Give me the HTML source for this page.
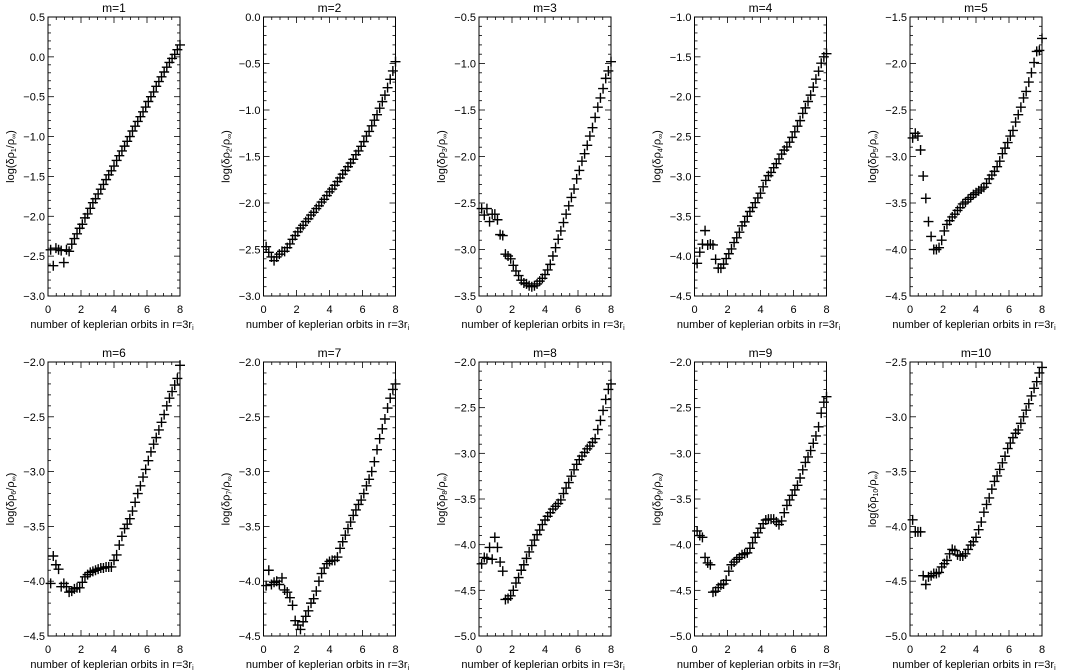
<!DOCTYPE html>
<html><head><meta charset="utf-8">
<style>
html,body{margin:0;padding:0;background:#fff;}
svg{display:block;font-family:"Liberation Sans","DejaVu Sans",sans-serif;}
</style></head>
<body>
<svg id="chart" width="1070" height="670" viewBox="0 0 1070 670" xmlns="http://www.w3.org/2000/svg"></svg>
<script>
const xs = [0.16,0.32,0.48,0.64,0.8,0.96,1.12,1.28,1.44,1.6,1.76,1.92,2.08,2.24,2.4,2.56,2.72,2.88,3.04,3.2,3.36,3.52,3.68,3.84,4.0,4.16,4.32,4.48,4.64,4.8,4.96,5.12,5.28,5.44,5.6,5.76,5.92,6.08,6.24,6.4,6.56,6.72,6.88,7.04,7.2,7.36,7.52,7.68,7.84,8.0];
const xTicks = [0,2,4,6,8];
const modes = [1,2,3,4,5,6,7,8,9,10];
const yMins = [-3.0,-3.0,-3.5,-4.5,-4.5,-4.5,-4.5,-5.0,-5.0,-5.0];
const yMaxs = [0.5,0.0,-0.5,-1.0,-1.5,-2.0,-2.0,-2.0,-2.0,-2.5];
const m1 = [-2.42,-2.62,-2.40,-2.42,-2.43,-2.58,-2.42,-2.44,-2.35,-2.28,-2.22,-2.15,-2.10,-2.02,-1.97,-1.90,-1.83,-1.78,-1.72,-1.66,-1.60,-1.54,-1.48,-1.43,-1.37,-1.30,-1.24,-1.18,-1.12,-1.06,-1.00,-0.93,-0.87,-0.81,-0.75,-0.69,-0.63,-0.56,-0.50,-0.44,-0.37,-0.31,-0.25,-0.19,-0.13,-0.07,-0.02,0.03,0.09,0.15];
const m2 = [-2.47,-2.53,-2.58,-2.62,-2.58,-2.55,-2.52,-2.52,-2.48,-2.44,-2.39,-2.35,-2.31,-2.27,-2.24,-2.20,-2.17,-2.13,-2.10,-2.06,-2.03,-1.99,-1.96,-1.92,-1.88,-1.85,-1.81,-1.77,-1.73,-1.69,-1.65,-1.61,-1.57,-1.53,-1.48,-1.44,-1.39,-1.34,-1.28,-1.23,-1.17,-1.11,-1.05,-0.98,-0.91,-0.84,-0.76,-0.67,-0.58,-0.48];
const m3 = [-2.56,-2.63,-2.56,-2.70,-2.62,-2.62,-2.68,-2.84,-2.85,-3.05,-3.07,-3.10,-3.17,-3.23,-3.28,-3.33,-3.36,-3.37,-3.39,-3.40,-3.39,-3.37,-3.34,-3.31,-3.27,-3.22,-3.16,-3.07,-2.98,-2.89,-2.80,-2.71,-2.62,-2.53,-2.44,-2.35,-2.24,-2.15,-2.05,-1.97,-1.88,-1.78,-1.69,-1.58,-1.47,-1.37,-1.27,-1.16,-1.08,-0.98];
const m4 = [-4.09,-3.95,-3.85,-3.68,-3.86,-3.85,-3.86,-4.04,-4.15,-4.15,-4.10,-4.03,-3.97,-3.91,-3.83,-3.77,-3.70,-3.62,-3.57,-3.50,-3.44,-3.39,-3.33,-3.27,-3.21,-3.13,-3.05,-2.99,-2.95,-2.89,-2.84,-2.78,-2.72,-2.67,-2.63,-2.57,-2.51,-2.44,-2.37,-2.30,-2.21,-2.14,-2.06,-1.98,-1.88,-1.78,-1.68,-1.58,-1.50,-1.46];
const m5 = [-2.80,-2.75,-2.78,-2.93,-3.21,-3.45,-3.70,-3.86,-4.00,-4.00,-3.98,-3.90,-3.80,-3.73,-3.69,-3.65,-3.62,-3.58,-3.55,-3.51,-3.49,-3.46,-3.44,-3.41,-3.39,-3.37,-3.35,-3.33,-3.29,-3.24,-3.20,-3.16,-3.11,-3.05,-2.97,-2.91,-2.85,-2.78,-2.72,-2.63,-2.55,-2.47,-2.37,-2.30,-2.20,-2.10,-1.99,-1.87,-1.86,-1.73];
const m6 = [-4.02,-3.77,-3.85,-3.89,-4.05,-4.02,-4.05,-4.10,-4.09,-4.07,-4.06,-4.06,-4.01,-3.96,-3.94,-3.92,-3.91,-3.90,-3.89,-3.88,-3.88,-3.87,-3.87,-3.87,-3.81,-3.76,-3.67,-3.59,-3.52,-3.48,-3.43,-3.36,-3.28,-3.20,-3.13,-3.05,-2.98,-2.90,-2.82,-2.75,-2.69,-2.62,-2.55,-2.48,-2.40,-2.33,-2.27,-2.21,-2.15,-2.03];
const m7 = [-4.04,-3.90,-4.03,-4.01,-4.00,-4.03,-3.97,-4.08,-4.10,-4.15,-4.22,-4.36,-4.40,-4.44,-4.37,-4.32,-4.27,-4.20,-4.16,-4.09,-4.00,-3.93,-3.88,-3.84,-3.82,-3.81,-3.81,-3.78,-3.70,-3.64,-3.58,-3.52,-3.46,-3.40,-3.35,-3.30,-3.26,-3.20,-3.13,-3.07,-3.00,-2.91,-2.80,-2.70,-2.61,-2.52,-2.42,-2.33,-2.25,-2.20];
const m8 = [-4.21,-4.14,-4.15,-4.03,-4.16,-3.92,-4.03,-4.19,-4.29,-4.60,-4.59,-4.56,-4.50,-4.42,-4.36,-4.28,-4.22,-4.15,-4.08,-4.01,-3.95,-3.89,-3.84,-3.78,-3.73,-3.69,-3.65,-3.61,-3.58,-3.55,-3.51,-3.44,-3.38,-3.32,-3.25,-3.18,-3.12,-3.07,-3.03,-2.99,-2.95,-2.92,-2.88,-2.84,-2.74,-2.64,-2.53,-2.41,-2.30,-2.24];
const m9 = [-3.85,-3.90,-3.92,-4.14,-4.20,-4.22,-4.52,-4.51,-4.47,-4.44,-4.43,-4.39,-4.29,-4.22,-4.19,-4.16,-4.14,-4.11,-4.10,-4.09,-4.04,-3.98,-3.92,-3.87,-3.82,-3.77,-3.73,-3.72,-3.72,-3.72,-3.75,-3.78,-3.74,-3.65,-3.57,-3.51,-3.46,-3.40,-3.35,-3.27,-3.18,-3.10,-3.04,-2.97,-2.89,-2.81,-2.71,-2.56,-2.44,-2.38];
const m10 = [-3.94,-4.05,-4.05,-4.05,-4.45,-4.53,-4.46,-4.45,-4.43,-4.43,-4.42,-4.37,-4.34,-4.31,-4.25,-4.21,-4.22,-4.26,-4.27,-4.27,-4.25,-4.21,-4.17,-4.14,-4.10,-4.03,-3.96,-3.87,-3.80,-3.74,-3.66,-3.59,-3.54,-3.48,-3.42,-3.36,-3.29,-3.24,-3.19,-3.15,-3.12,-3.06,-3.00,-2.94,-2.88,-2.81,-2.74,-2.68,-2.60,-2.55];
const series = [m1,m2,m3,m4,m5,m6,m7,m8,m9,m10];

const NS = "http://www.w3.org/2000/svg";
const svg = document.getElementById('chart');
function mk(tag, attrs, parent){
  const e = document.createElementNS(NS, tag);
  for (const k in attrs) e.setAttribute(k, attrs[k]);
  (parent||svg).appendChild(e);
  return e;
}
const W = 132, colStep = 215.5, left0 = 48;
const rows = [{top:17,bot:296},{top:362,bot:636}];

modes.forEach((m, i) => {
  const col = i % 5, row = Math.floor(i/5);
  const L = left0 + col*colStep, R = L + W, T = rows[row].top, B = rows[row].bot;
  const ymin = yMins[i], ymax = yMaxs[i];
  const sx = v => L + (v/8)*W;
  const sy = v => B - (v - ymin)/(ymax - ymin)*(B - T);
  const g = mk('g', {});
  
  

  const frame = mk('rect', {x:L, y:T, width:W, height:B-T, fill:'none', stroke:'#000', 'stroke-width':1}, g);
  
  

  // x ticks
  for (let v = 0; v <= 8.001; v += 0.5) {
    const major = Math.abs(v - Math.round(v/2)*2) < 1e-6;
    const len = major ? 6 : 3;
    const x = sx(v);
    mk('line', {x1:x, y1:B, x2:x, y2:B-len, stroke:'#000', 'stroke-width':0.8}, g);
    mk('line', {x1:x, y1:T, x2:x, y2:T+len, stroke:'#000', 'stroke-width':0.8}, g);
  }
  xTicks.forEach(v => {
    const t = mk('text', {x:sx(v), y:B+17, 'font-size':11, 'text-anchor':'middle', fill:'#000'}, g);
    t.textContent = String(v);
    
    
  });
  // y ticks
  const n = Math.round((ymax - ymin)/0.1);
  for (let k = 0; k <= n; k++) {
    const v = ymin + k*0.1;
    const major = k % 5 === 0;
    const len = major ? 6 : 3;
    const y = sy(v);
    mk('line', {x1:L, y1:y, x2:L+len, y2:y, stroke:'#000', 'stroke-width':0.8}, g);
    mk('line', {x1:R, y1:y, x2:R-len, y2:y, stroke:'#000', 'stroke-width':0.8}, g);
    if (major) {
      const t = mk('text', {x:L-3, y:y+4, 'font-size':11, 'text-anchor':'end', fill:'#000'}, g);
      t.textContent = v.toFixed(1).replace('-', '\u2212');
      
      
    }
  }
  // title
  const title = mk('text', {x:(L+R)/2, y:T-5, 'font-size':12, 'text-anchor':'middle', fill:'#000'}, g);
  title.textContent = 'm=' + m;
  
  
  // x label
  const xl = mk('text', {x:(L+R)/2 - 2, y:B+32, 'font-size':11, 'text-anchor':'middle', fill:'#000'}, g);
  xl.textContent = 'number of keplerian orbits in r=3r';
  const sub = mk('tspan', {'font-size':7, dy:2}, xl);
  sub.textContent = 'i';
  
  
  // y label
  const cy = (T+B)/2, lx = L - 34;
  const yl = mk('text', {x:lx, y:cy, 'font-size':11, 'text-anchor':'middle', fill:'#000', transform:'rotate(-90 '+lx+' '+cy+')'}, g);
  yl.textContent = 'log(\u03B4\u03C1';
  const s1 = mk('tspan', {'font-size':7, dy:2}, yl); s1.textContent = String(m);
  const s2 = mk('tspan', {dy:-2}, yl); s2.textContent = '/\u03C1';
  const s3 = mk('tspan', {'font-size':7, dy:2}, yl); s3.textContent = '\u221E';
  const s4 = mk('tspan', {dy:-2}, yl); s4.textContent = ')';
  
  
  // points
  const vals = series[i];
  xs.forEach((xv, k) => {
    const px = sx(xv), py = sy(vals[k]);
    const p = mk('path', {d:'M'+(px-5)+' '+py+'H'+(px+5)+'M'+px+' '+(py-5)+'V'+(py+5), stroke:'#000', 'stroke-width':1.4, fill:'none'}, g);
    
    
  });
});
</script>
</body></html>
